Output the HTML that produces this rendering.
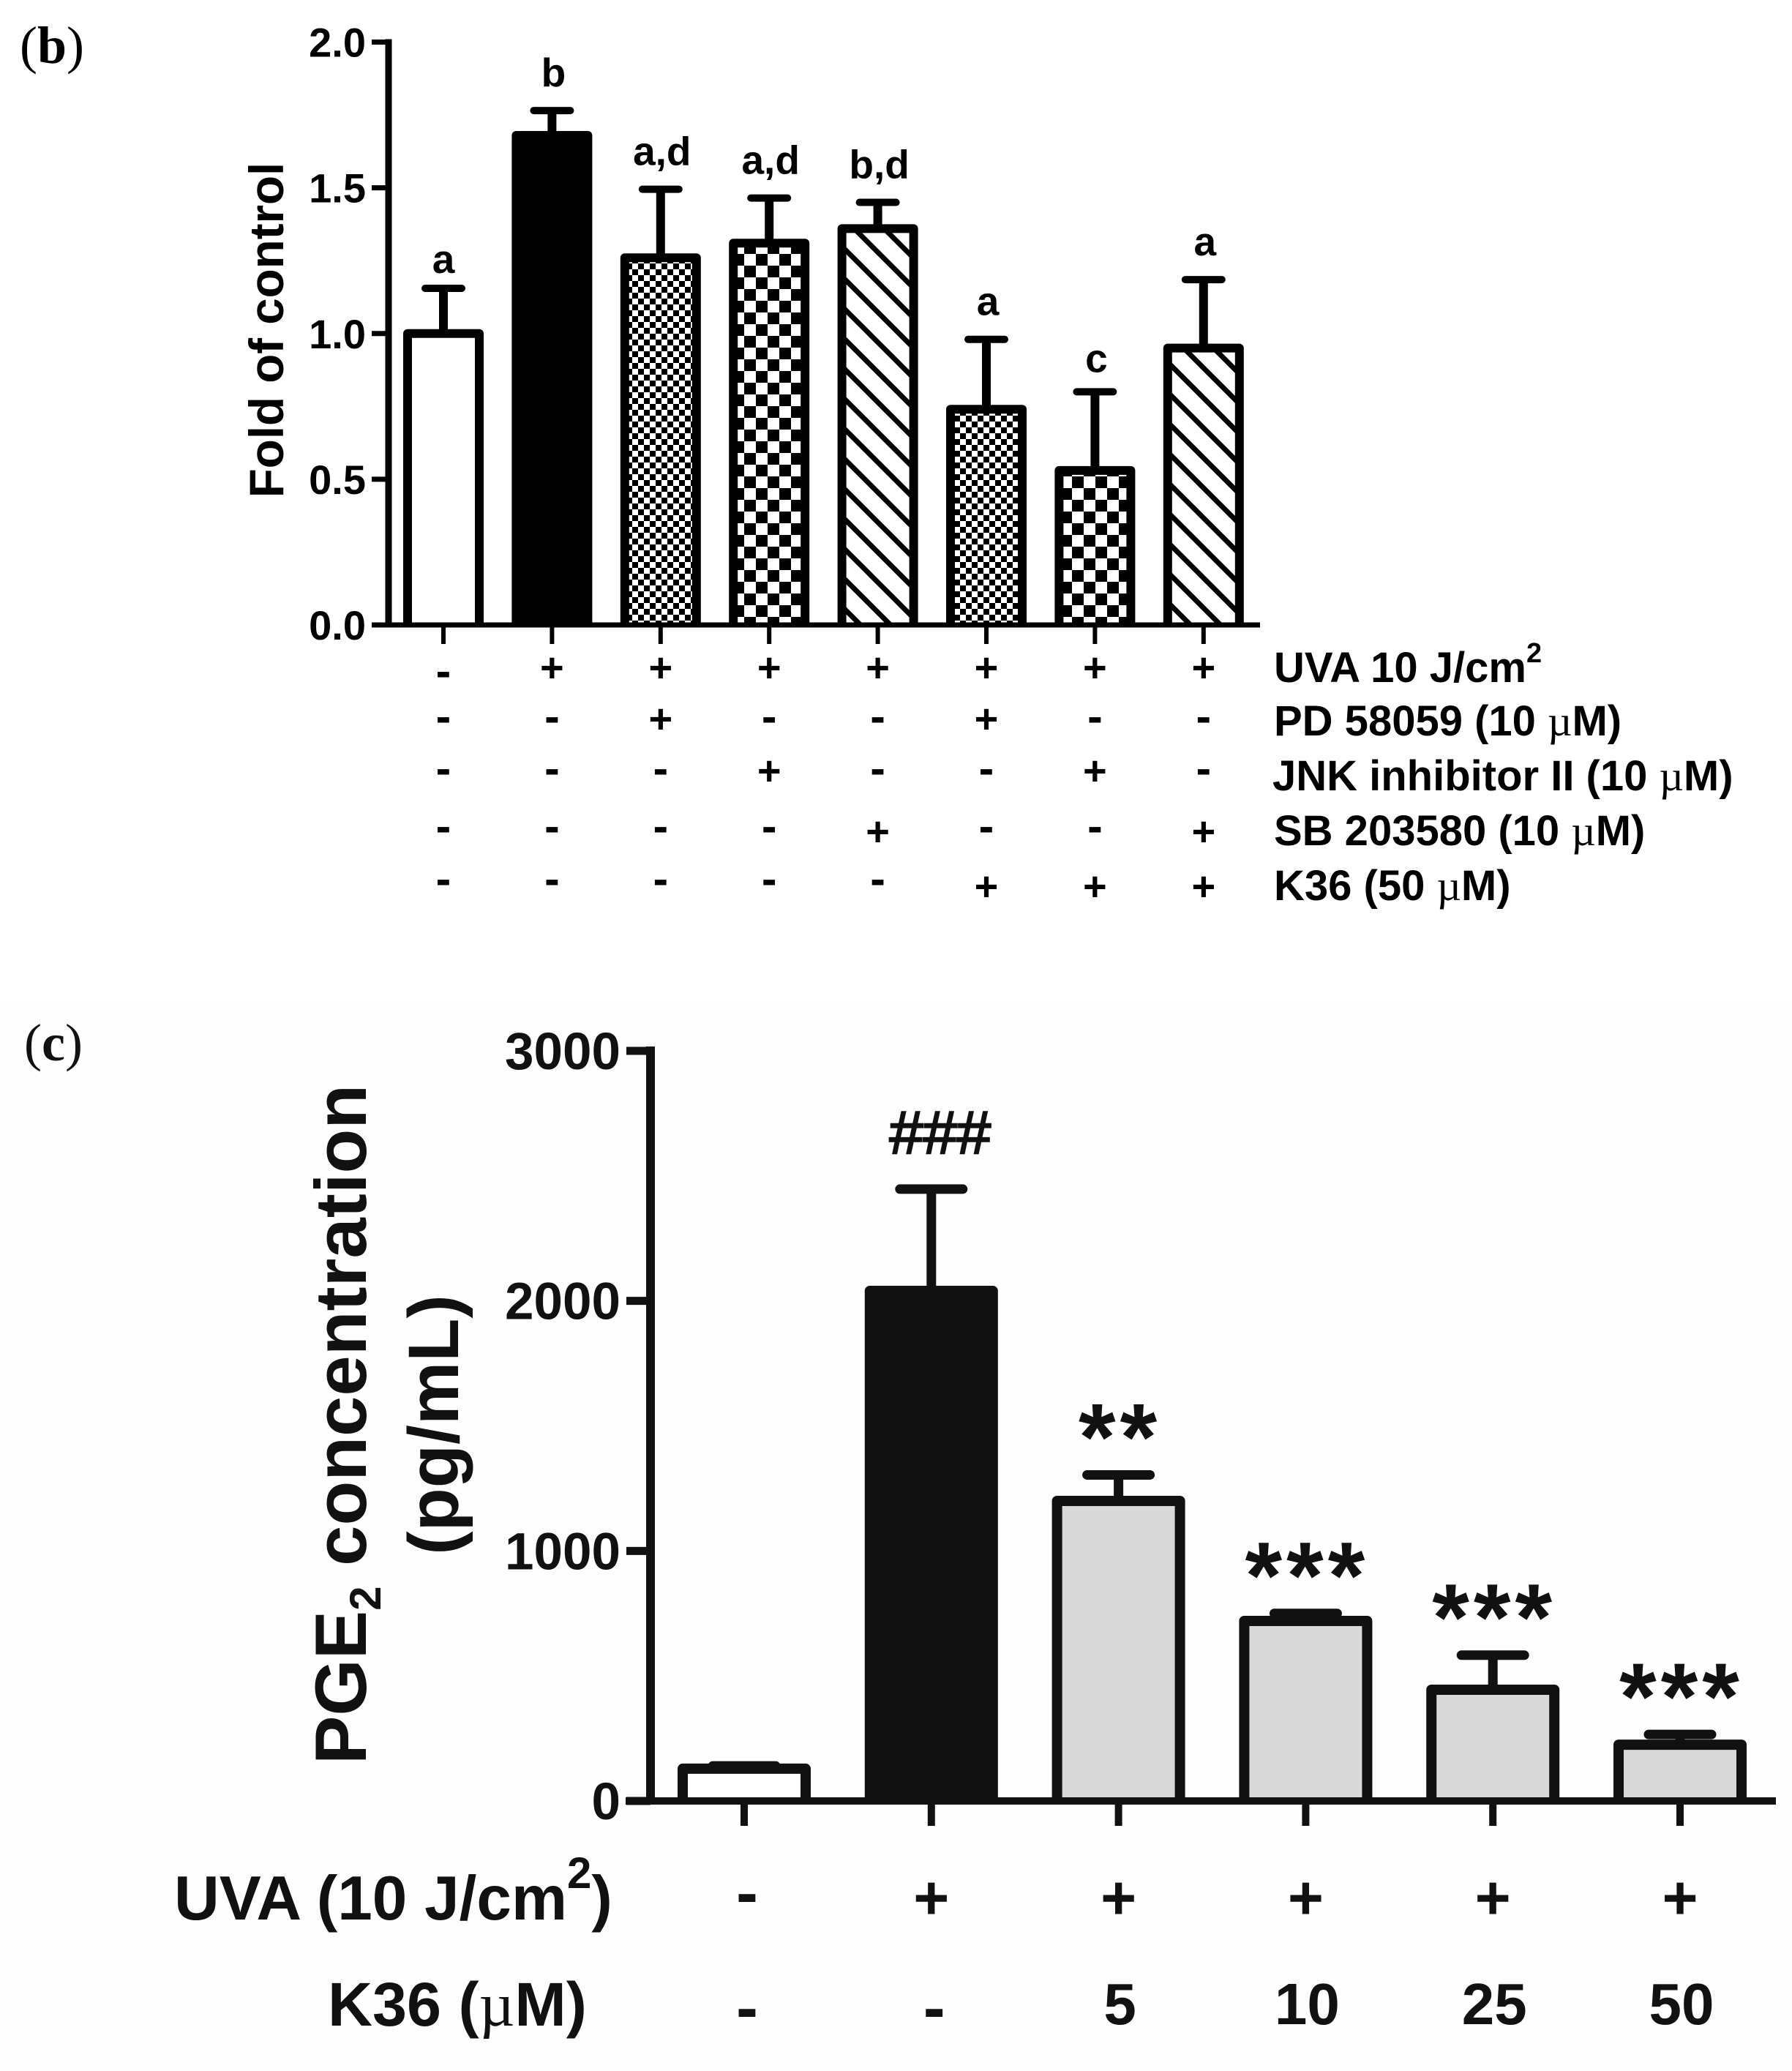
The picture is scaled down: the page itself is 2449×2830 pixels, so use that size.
<!DOCTYPE html>
<html lang="en">
<head>
<meta charset="utf-8">
<title>UVA K36 bar charts</title>
<style>
html,body{margin:0;padding:0;background:#fff;width:2449px;height:2830px;overflow:hidden}
svg{display:block}
text{font-family:"Liberation Sans",Arial,sans-serif;font-weight:700;fill:#000}
.serif{font-family:"Liberation Serif",serif}
.mu{font-family:"Liberation Serif",serif;font-weight:400}
.c text,text.c{fill:#111}
</style>
</head>
<body>
<svg id="figure" xmlns="http://www.w3.org/2000/svg" width="2449" height="2830" viewBox="0 0 2449 2830">
  <defs>
    <pattern id="fine-check" patternUnits="userSpaceOnUse" width="16" height="16">
      <rect width="16" height="16" fill="#fff"/>
      <rect width="8" height="8" fill="#000"/>
      <rect x="8" y="8" width="8" height="8" fill="#000"/>
    </pattern>
    <pattern id="coarse-check" patternUnits="userSpaceOnUse" width="32" height="32" patternTransform="translate(1033 347)">
      <rect width="32" height="32" fill="#fff"/>
      <rect width="16" height="16" fill="#000"/>
      <rect x="16" y="16" width="16" height="16" fill="#000"/>
    </pattern>
    <pattern id="hatch" patternUnits="userSpaceOnUse" width="41" height="41" patternTransform="translate(0 6)">
      <rect width="41" height="41" fill="#fff"/>
      <path d="M-10 -10L51 51M-10 31L10 51M31 -10L51 10" stroke="#000" stroke-width="7" fill="none"/>
    </pattern>
  </defs>

  <rect x="0" y="1370" width="2449" height="1460" fill="#fefefe"/>

  <text x="27" y="86" font-size="72" class="serif" style="font-weight:400">(<tspan style="font-weight:700">b</tspan>)</text>
  <text x="33" y="1449" font-size="72" class="serif" style="font-weight:400;fill:#111">(<tspan style="font-weight:700">c</tspan>)</text>

  <g id="chart-b"></g>
  <text transform="translate(387 451) rotate(-90)" text-anchor="middle" font-size="65.5">Fold of control</text>

  <g font-size="58">
    <text x="1741" y="932">UVA 10 J/cm<tspan font-size="38" dy="-27">2</tspan></text>
    <text x="1741" y="1005">PD 58059 (10 <tspan class="mu">µ</tspan>M)</text>
    <text x="1739" y="1080">JNK inhibitor II (10 <tspan class="mu">µ</tspan>M)</text>
    <text x="1741" y="1155">SB 203580 (10 <tspan class="mu">µ</tspan>M)</text>
    <text x="1741" y="1230">K36 (50 <tspan class="mu">µ</tspan>M)</text>
  </g>

  <g id="chart-c"></g>
  <text class="c" transform="translate(500 2411) rotate(-90)" font-size="99.5">PGE<tspan font-size="60" dy="20">2</tspan><tspan dy="-20"> concentration</tspan></text>
  <text class="c" transform="translate(626 1947) rotate(-90)" text-anchor="middle" font-size="97">(pg/mL)</text>

  <text class="c" x="238" y="2623" font-size="85.5">UVA (10 J/cm<tspan font-size="60" dy="-43">2</tspan><tspan dy="43">)</tspan></text>
  <text class="c" x="448" y="2768" font-size="84.5">K36 (<tspan class="mu">µ</tspan>M)</text>
</svg>

<script>
// ---- Panel (b) data ----
const bValues = [1.0, 1.68, 1.26, 1.31, 1.36, 0.74, 0.53, 0.95];
const bErrors = [0.155, 0.085, 0.235, 0.155, 0.09, 0.24, 0.27, 0.235];
const bLetters = ['a', 'b', 'a,d', 'a,d', 'b,d', 'a', 'c', 'a'];
const bFills = ['white', 'black', 'fine', 'coarse', 'hatch', 'fine', 'coarse', 'hatch'];
const bTicks = [0, 0.5, 1.0, 1.5, 2.0];
const bTickLabels = ['0.0', '0.5', '1.0', '1.5', '2.0'];
const bRowUVA = ['-', '+', '+', '+', '+', '+', '+', '+'];
const bRowPD = ['-', '-', '+', '-', '-', '+', '-', '-'];
const bRowJNK = ['-', '-', '-', '+', '-', '-', '+', '-'];
const bRowSB = ['-', '-', '-', '-', '+', '-', '-', '+'];
const bRowK36 = ['-', '-', '-', '-', '-', '+', '+', '+'];

// ---- Panel (c) data ----
const cValues = [129, 2040, 1200, 720, 445, 225];
const cErrors = [11, 407, 104, 30, 138, 41];
const cMarks = ['', '###', '**', '***', '***', '***'];
const cFills = ['white', 'black', 'grey', 'grey', 'grey', 'grey'];
const cTicks = [0, 1000, 2000, 3000];
const cTickLabels = ['0', '1000', '2000', '3000'];
const cRowUVA = ['-', '+', '+', '+', '+', '+'];
const cRowK36 = ['-', '-', '5', '10', '25', '50'];

const NS = 'http://www.w3.org/2000/svg';
const make = (parent, tag) => { const e = document.createElementNS(NS, tag); parent.appendChild(e); return e; };
const setA = (e, o) => { for (const k in o) e.setAttribute(k, o[k]); return e; };
const fillFor = { white: '#fff', black: '#000', fine: 'url(#fine-check)', coarse: 'url(#coarse-check)', hatch: 'url(#hatch)', grey: '#d9d9d9' };

// axis functions
const yB = v => 854 - v * 398.25;
const xB = i => 606 + i * 148.4;
const yC = v => 2461 - v * 0.34167;
const xC = i => 1017 + i * 255.8;

// open-bottom bar outline: the baseline is drawn by the x axis itself
const barPath = (cx, half, top, base) => 'M' + (cx - half) + ' ' + base + 'V' + top + 'H' + (cx + half) + 'V' + base;

// ---- draw panel b ----
const gB = document.getElementById('chart-b');

bValues.forEach((v, i) => {
  const cx = xB(i), top = yB(v), cap = yB(v + bErrors[i]);
  const stem = make(gB, 'line');
  setA(stem, { x1: cx, x2: cx, y1: cap, y2: top, stroke: '#000', 'stroke-width': 12 });
  
  
  const capLine = make(gB, 'line');
  setA(capLine, { x1: cx - 25, x2: cx + 25, y1: cap, y2: cap, stroke: '#000', 'stroke-width': 10, 'stroke-linecap': 'round' });
  
  
  const bar = make(gB, 'path');
  setA(bar, { d: barPath(cx, 49, top, yB(0)), fill: fillFor[bFills[i]], stroke: '#000', 'stroke-width': 12, 'stroke-linejoin': 'round' });
  
  
  const gap = i === 0 ? 21 : (i === 6 ? 27 : 33);
  const lab = make(gB, 'text');
  setA(lab, { x: cx + (i === 0 ? 0 : 2), y: cap - gap, 'text-anchor': 'middle', 'font-size': 55 });
  lab.textContent = bLetters[i];
  
  
  const tick = make(gB, 'line');
  setA(tick, { x1: cx, x2: cx, y1: yB(0), y2: 880, stroke: '#000', 'stroke-width': 6 });
  
  
});

const axisYB = make(gB, 'line');
setA(axisYB, { x1: 531, x2: 531, y1: yB(2) - 4, y2: yB(0) + 3, stroke: '#000', 'stroke-width': 9 });



const axisXB = make(gB, 'line');
setA(axisXB, { x1: 508, x2: 1722, y1: yB(0), y2: yB(0), stroke: '#000', 'stroke-width': 7 });



bTicks.forEach((t, i) => {
  const tk = make(gB, 'line');
  setA(tk, { x1: 508, x2: 531, y1: yB(t), y2: yB(t), stroke: '#000', 'stroke-width': 7 });
  
  
  const lb = make(gB, 'text');
  setA(lb, { x: 500, y: yB(t) + 20, 'text-anchor': 'end', 'font-size': 56 });
  lb.textContent = bTickLabels[i];
  
  
});

// sign table rows of panel b
const bPlusCentres = [913, 983, 1054, 1137, 1212];
const bMinusCentres = [923, 985, 1056, 1135, 1207];
[bRowUVA, bRowPD, bRowJNK, bRowSB, bRowK36].forEach((row, r) => {
  row.forEach((s, i) => {
    const t = make(gB, 'text');
    const plus = s === '+';
    const size = plus ? 56 : 62;
    setA(t, { x: xB(i), y: (plus ? bPlusCentres[r] + 18.5 : bMinusCentres[r] + 15), 'text-anchor': 'middle', 'font-size': size });
    t.textContent = s;
    
    
  });
});

// ---- draw panel c ----
const gC = document.getElementById('chart-c');
gC.setAttribute('class', 'c');
const INK = '#111';

cValues.forEach((v, i) => {
  const cx = xC(i), top = yC(v), cap = yC(v + cErrors[i]);
  const stem = make(gC, 'line');
  setA(stem, { x1: cx, x2: cx, y1: cap, y2: top, stroke: INK, 'stroke-width': 13 });
  
  
  const capLine = make(gC, 'line');
  setA(capLine, { x1: cx - 43, x2: cx + 43, y1: cap, y2: cap, stroke: INK, 'stroke-width': 13, 'stroke-linecap': 'round' });
  
  
  const bar = make(gC, 'path');
  setA(bar, { d: barPath(cx, 84, top, yC(0)), fill: cFills[i] === 'black' ? INK : fillFor[cFills[i]], stroke: INK, 'stroke-width': 14, 'stroke-linejoin': 'round' });
  
  
  const tick = make(gC, 'line');
  setA(tick, { x1: cx, x2: cx, y1: yC(0), y2: 2495, stroke: INK, 'stroke-width': 10 });
  
  
  if (cMarks[i]) {
    const m = make(gC, 'text');
    const hash = cMarks[i] === '###';
    setA(m, { x: cx + (hash ? 12 : 2), y: hash ? cap - 49 : cap - 7, 'text-anchor': 'middle', 'font-size': hash ? 83 : 130 });
    m.setAttribute('style', hash ? 'font-weight:400;stroke:#111;stroke-width:2.5' : 'font-weight:700;letter-spacing:6px');
    m.textContent = cMarks[i];
    
    
  }
});

const axisYC = make(gC, 'line');
setA(axisYC, { x1: 889, x2: 889, y1: yC(3000) - 6, y2: yC(0) + 5, stroke: INK, 'stroke-width': 12 });



const axisXC = make(gC, 'line');
setA(axisXC, { x1: 855, x2: 2427, y1: yC(0), y2: yC(0), stroke: INK, 'stroke-width': 10 });



cTicks.forEach((t, i) => {
  const tk = make(gC, 'line');
  setA(tk, { x1: 856, x2: 889, y1: yC(t), y2: yC(t), stroke: INK, 'stroke-width': 11 });
  
  
  const lb = make(gC, 'text');
  setA(lb, { x: 848, y: yC(t) + 25, 'text-anchor': 'end', 'font-size': 71 });
  lb.textContent = cTickLabels[i];
  
  
});

cRowUVA.forEach((s, i) => {
  const t = make(gC, 'text');
  const plus = s === '+';
  setA(t, { x: xC(i) + (i === 0 ? 4 : 0), y: plus ? 2594 + 28 : 2595 + 22, 'text-anchor': 'middle', 'font-size': plus ? 84 : 90 });
  t.textContent = s;
  
  
});

cRowK36.forEach((s, i) => {
  const t = make(gC, 'text');
  const dash = s === '-';
  setA(t, { x: xC(i) + (dash ? 4 : 2), y: dash ? 2752 + 22 : 2766, 'text-anchor': 'middle', 'font-size': dash ? 90 : 80 });
  t.textContent = s;
  
  
});
</script>
</body>
</html>
